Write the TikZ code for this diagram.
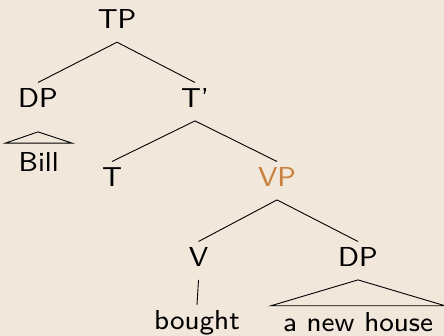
\documentclass[tikz,border=0pt]{standalone}
\usepackage{graphicx}
\usetikzlibrary{calc}
\definecolor{paper}{RGB}{242,231,219}
\definecolor{headcol}{RGB}{200,130,62}
% 8pt sans text, enlarged as a whole
\newcommand\treetext[1]{\scalebox{3.425}{\fontsize{8}{10}\selectfont\sffamily #1}}
\begin{document}
\begin{tikzpicture}[x=1pt,y=-1pt,
  cat/.style={anchor=base,text height=19pt,text depth=7pt,
    inner xsep=0pt,inner ysep=6pt},
  leaf/.style={cat},
  roofleaf/.style={cat,inner xsep=12pt},
  branch/.style={line width=0.9pt,black}]
% canvas
\fill[paper] (0,0) rectangle (444,336);
\useasboundingbox (0,0) rectangle (444,336);
% categories
\node[cat] (tp) at (117,29) {\treetext{TP}};
\node[cat] (dp) at (38,107.7) {\treetext{DP}};
\node[cat] (tbar) at (195,107.7) {\treetext{T'}};
\node[cat] (t) at (112,186.7) {\treetext{T}};
\node[cat,text=headcol] (vp) at (277,186.7) {\treetext{VP}};
\node[cat] (v) at (198.5,266.7) {\treetext{V}};
\node[cat] (obj) at (358,266.7) {\treetext{DP}};
% words
\node[roofleaf,inner xsep=13pt,inner ysep=9.4pt] (bill) at (38.7,171.7) {\treetext{Bill}};
\node[leaf] (bought) at (197,330) {\treetext{bought}};
\node[roofleaf] (house) at (358,331) {\treetext{a new house}};
% branches
\draw[branch] (tp.south) -- (dp.north);
\draw[branch] (tp.south) -- (tbar.north);
\draw[branch] (tbar.south) -- (t.north);
\draw[branch] (tbar.south) -- (vp.north);
\draw[branch] (vp.south) -- (v.north);
\draw[branch] (vp.south) -- (obj.north);
\draw[branch] (v.south) -- (bought.north);
% roofs
\coordinate (billapex) at ($(dp.south)+(0,11)$);
\draw[branch] (billapex) -- (bill.north west) -- (bill.north east) -- cycle;
\draw[branch] (obj.south) -- (house.north west) -- (house.north east) -- cycle;
\end{tikzpicture}
\end{document}
